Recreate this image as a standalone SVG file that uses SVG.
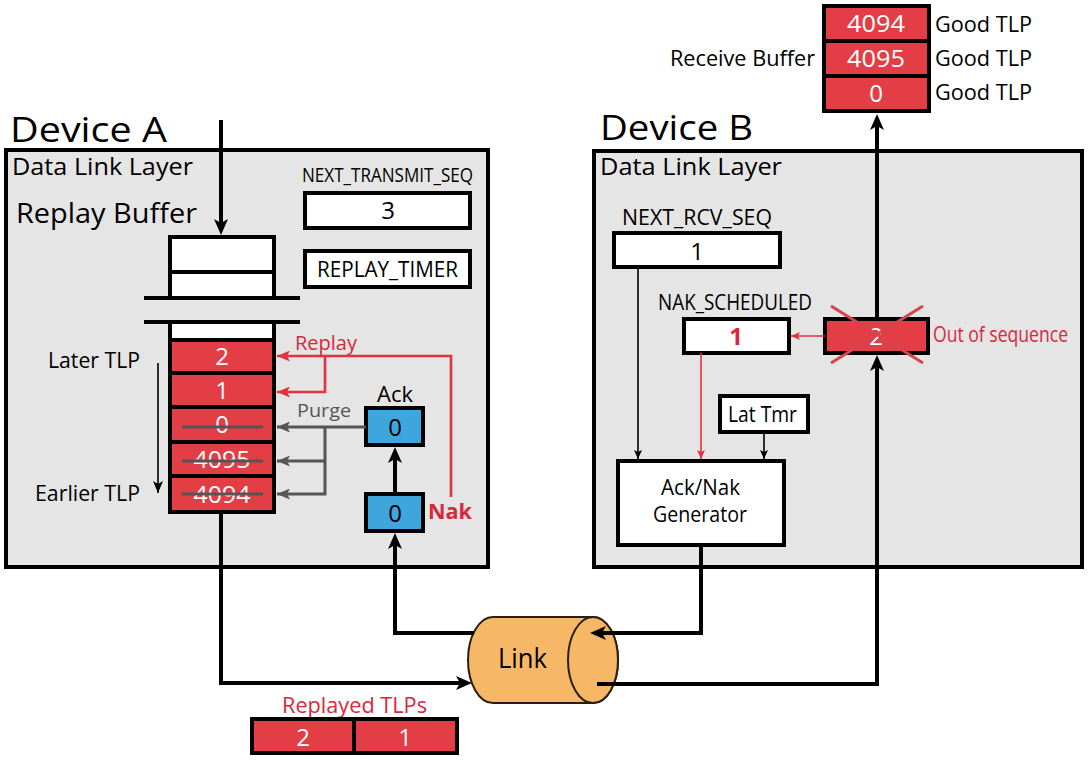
<svg xmlns="http://www.w3.org/2000/svg" width="1089" height="762" viewBox="0 0 1089 762">
<defs>
<style>
text{font-family:"Open Sans","Liberation Sans",sans-serif;fill:#000}
.dev{fill:#e5e5e5;stroke:#000;stroke-width:4}
.box{fill:#fff;stroke:#000;stroke-width:4}
.red{fill:#e33e46;stroke:#000;stroke-width:4}
.blue{fill:#3ea6dc;stroke:#000;stroke-width:4}
.cell{fill:#fff;font-size:24px;text-anchor:middle}
.num{font-size:24px;text-anchor:middle}
.rt{fill:#d8283c}
.thick{fill:none;stroke:#000;stroke-width:4}
.thin{fill:none;stroke:#000;stroke-width:1.6}
.rthin{fill:none;stroke:#e0323f;stroke-width:1.6}
.rmed{fill:none;stroke:#e0323f;stroke-width:2.6}
.gray{fill:none;stroke:#555;stroke-width:3}
.strike{stroke:#555;stroke-width:3}
</style>
<marker id="ah" markerUnits="userSpaceOnUse" markerWidth="16" markerHeight="14" refX="8" refY="7" orient="auto"><path d="M0,0 L16,7 L0,14 L4,7 Z" fill="#000"/></marker>
<marker id="ahs" markerUnits="userSpaceOnUse" markerWidth="9" markerHeight="8" refX="9" refY="4" orient="auto"><path d="M0,0 L9,4 L0,8 L2,4 Z" fill="#000"/></marker>
<marker id="ahl" markerUnits="userSpaceOnUse" markerWidth="12" markerHeight="10" refX="12" refY="5" orient="auto"><path d="M0,0 L12,5 L0,10 L3,5 Z" fill="#000"/></marker>
<marker id="ahr" markerUnits="userSpaceOnUse" markerWidth="13" markerHeight="11" refX="13" refY="5.5" orient="auto"><path d="M0,0 L13,5.5 L0,11 L3,5.5 Z" fill="#e0323f"/></marker>
<marker id="ahrs" markerUnits="userSpaceOnUse" markerWidth="9" markerHeight="8" refX="9" refY="4" orient="auto"><path d="M0,0 L9,4 L0,8 L2,4 Z" fill="#e0323f"/></marker>
<marker id="ahg" markerUnits="userSpaceOnUse" markerWidth="13" markerHeight="11" refX="13" refY="5.5" orient="auto"><path d="M0,0 L13,5.5 L0,11 L3,5.5 Z" fill="#555"/></marker>
</defs>

<g id="receive-buffer">
<rect class="red" x="824" y="6" width="105" height="105"/>
<line x1="824" y1="41" x2="929" y2="41" stroke="#000" stroke-width="4"/>
<line x1="824" y1="76" x2="929" y2="76" stroke="#000" stroke-width="4"/>
<text class="cell" x="876" y="32" font-size="25" textLength="58" lengthAdjust="spacingAndGlyphs">4094</text>
<text class="cell" x="876" y="67" font-size="25" textLength="58" lengthAdjust="spacingAndGlyphs">4095</text>
<text class="cell" x="876" y="102" font-size="25">0</text>
<text x="670" y="66" font-size="21" textLength="145" lengthAdjust="spacingAndGlyphs">Receive Buffer</text>
<text x="935" y="32" font-size="22" textLength="97" lengthAdjust="spacingAndGlyphs">Good TLP</text>
<text x="935" y="66" font-size="22" textLength="97" lengthAdjust="spacingAndGlyphs">Good TLP</text>
<text x="935" y="100" font-size="22" textLength="97" lengthAdjust="spacingAndGlyphs">Good TLP</text>
</g>

<g id="device-a">
<text x="10" y="142" font-size="34" textLength="157" lengthAdjust="spacingAndGlyphs">Device A</text>
<rect class="dev" x="6" y="150" width="482" height="417"/>
<text x="12" y="175" font-size="23" textLength="181" lengthAdjust="spacingAndGlyphs">Data Link Layer</text>
<text x="16" y="223" font-size="27" textLength="181" lengthAdjust="spacingAndGlyphs">Replay Buffer</text>
</g>

<g id="next-transmit-seq">
<text x="302" y="182" font-size="20" textLength="171" lengthAdjust="spacingAndGlyphs">NEXT_TRANSMIT_SEQ</text>
<rect class="box" x="305" y="193" width="165" height="35"/>
<text class="num" x="388" y="219" font-size="25">3</text>
</g>

<g id="replay-timer">
<rect class="box" x="305" y="251" width="165" height="36"/>
<text x="317" y="277" font-size="21" textLength="141" lengthAdjust="spacingAndGlyphs">REPLAY_TIMER</text>
</g>

<g id="replay-buffer">
<rect class="box" x="170" y="237" width="104" height="61"/>
<line x1="170" y1="272" x2="274" y2="272" stroke="#000" stroke-width="4"/>
<line x1="144" y1="298" x2="300" y2="298" stroke="#000" stroke-width="4"/>
<line x1="144" y1="322" x2="300" y2="322" stroke="#000" stroke-width="4"/>
<rect class="box" x="170" y="322" width="104" height="18"/>
<rect class="red" x="170" y="340" width="104" height="33"/>
<rect class="red" x="170" y="373" width="104" height="34"/>
<rect class="red" x="170" y="407" width="104" height="35"/>
<rect class="red" x="170" y="442" width="104" height="34"/>
<rect class="red" x="170" y="476" width="104" height="36"/>
<text class="cell" x="222" y="365" font-size="25">2</text>
<text class="cell" x="222" y="399" font-size="25">1</text>
<text class="cell" x="222" y="433" font-size="25">0</text>
<text class="cell" x="222" y="468" font-size="25" textLength="57" lengthAdjust="spacingAndGlyphs">4095</text>
<text class="cell" x="222" y="503" font-size="25" textLength="57" lengthAdjust="spacingAndGlyphs">4094</text>
<line class="strike" x1="182" y1="427" x2="263" y2="427"/>
<line class="strike" x1="182" y1="461" x2="263" y2="461"/>
<line class="strike" x1="182" y1="494" x2="263" y2="494"/>
<text x="48" y="368" font-size="22" textLength="92" lengthAdjust="spacingAndGlyphs">Later TLP</text>
<text x="35" y="501" font-size="22" textLength="105" lengthAdjust="spacingAndGlyphs">Earlier TLP</text>
</g>

<g id="ack-box">
<text x="377" y="402" font-size="21" textLength="36" lengthAdjust="spacingAndGlyphs">Ack</text>
<rect class="blue" x="366" y="408" width="57" height="37"/>
<text class="num" x="395" y="436" fill="#1b2b45" font-size="25">0</text>
</g>

<g id="rx-box">
<rect class="blue" x="366" y="494" width="57" height="37"/>
<text class="num" x="395" y="522" fill="#1b2b45" font-size="25">0</text>
<text class="rt" x="428" y="519" font-size="21" font-weight="bold" textLength="44" lengthAdjust="spacingAndGlyphs">Nak</text>
</g>

<g id="device-b">
<text x="600" y="140" font-size="34" textLength="153" lengthAdjust="spacingAndGlyphs">Device B</text>
<rect class="dev" x="594" y="151" width="488" height="416"/>
<text x="600" y="175" font-size="23" textLength="182" lengthAdjust="spacingAndGlyphs">Data Link Layer</text>
</g>

<g id="next-rcv-seq">
<text x="622" y="225" font-size="21" textLength="150" lengthAdjust="spacingAndGlyphs">NEXT_RCV_SEQ</text>
<rect class="box" x="614" y="233" width="166" height="34"/>
<text class="num" x="697" y="260" font-size="25">1</text>
</g>

<g id="nak-scheduled">
<text x="658" y="310" font-size="21" textLength="154" lengthAdjust="spacingAndGlyphs">NAK_SCHEDULED</text>
<rect class="box" x="684" y="319" width="105" height="34"/>
<text class="num rt" x="736" y="345" font-size="25" font-weight="bold">1</text>
</g>

<g id="out-of-seq">
<rect class="red" x="825" y="319" width="103" height="34"/>
<text class="cell" x="876" y="345" font-size="25">2</text>
<line x1="831" y1="306" x2="923" y2="363" stroke="#d8434c" stroke-width="3"/>
<line x1="923" y1="306" x2="831" y2="363" stroke="#d8434c" stroke-width="3"/>
<text class="rt" transform="translate(933,342) scale(1,1.12)" x="0" y="0" font-size="19" textLength="135" lengthAdjust="spacingAndGlyphs">Out of sequence</text>
</g>

<g id="lat-tmr">
<rect class="box" x="720" y="396" width="88" height="36"/>
<text x="728" y="422" font-size="21" textLength="69" lengthAdjust="spacingAndGlyphs">Lat Tmr</text>
</g>

<g id="acknak-gen">
<rect class="box" x="618" y="461" width="166" height="84"/>
<text x="661" y="495" font-size="21" textLength="79" lengthAdjust="spacingAndGlyphs">Ack/Nak</text>
<text x="653" y="522" font-size="21" textLength="94" lengthAdjust="spacingAndGlyphs">Generator</text>
</g>

<g id="link">
<path d="M493,617 H593 A25,43 0 0 1 593,703 H493 A25,43 0 0 1 493,617 Z" fill="#f6b866" stroke="#2a1e12" stroke-width="2"/>
<ellipse cx="593" cy="660" rx="25" ry="43" fill="#f6b866" stroke="#2a1e12" stroke-width="2"/>
<text x="498" y="668" font-size="27" textLength="49" lengthAdjust="spacingAndGlyphs">Link</text>
</g>

<g id="replayed-tlps">
<text class="rt" x="282" y="713" font-size="22" textLength="145" lengthAdjust="spacingAndGlyphs">Replayed TLPs</text>
<rect class="red" x="252" y="719" width="205" height="34"/>
<line x1="354" y1="719" x2="354" y2="753" stroke="#000" stroke-width="4"/>
<text class="cell" x="303" y="746" font-size="25">2</text>
<text class="cell" x="405" y="746" font-size="25">1</text>
</g>

<g id="connectors">
<path class="thick" d="M221,120 V227" marker-end="url(#ah)"/>
<path class="thick" d="M221,514 V683 H464" marker-end="url(#ah)"/>
<path class="thick" d="M474,633 H395 V541" marker-end="url(#ah)"/>
<path class="thick" d="M395,494 V455" marker-end="url(#ah)"/>
<path class="thick" d="M701,547 V633 H598" marker-end="url(#ah)"/>
<path class="thick" d="M597,684 H877 V363" marker-end="url(#ah)"/>
<path class="thick" d="M877,317 V122" marker-end="url(#ah)"/>
<path class="thin" d="M158,363 V493" marker-end="url(#ahl)"/>
<path class="thin" d="M638,267 V459" marker-end="url(#ahs)"/>
<path class="thin" d="M764,432 V459" marker-end="url(#ahs)"/>
<path class="rthin" d="M701,353 V459" marker-end="url(#ahrs)"/>
<path class="rthin" d="M825,336 H791" marker-end="url(#ahrs)"/>
<path class="rmed" d="M451,497 V356 H277" marker-end="url(#ahr)"/>
<path class="rmed" d="M325,356 V392 H277" marker-end="url(#ahr)"/>
<path class="gray" d="M366,427 H277" marker-end="url(#ahg)"/>
<path class="gray" d="M325,427 V494 H277" marker-end="url(#ahg)"/>
<path class="gray" d="M325,461 H277" marker-end="url(#ahg)"/>
<text class="rt" x="295" y="350" font-size="20" textLength="62" lengthAdjust="spacingAndGlyphs">Replay</text>
<text x="297" y="417" font-size="19" style="fill:#555" textLength="54" lengthAdjust="spacingAndGlyphs">Purge</text>
</g>
</svg>
